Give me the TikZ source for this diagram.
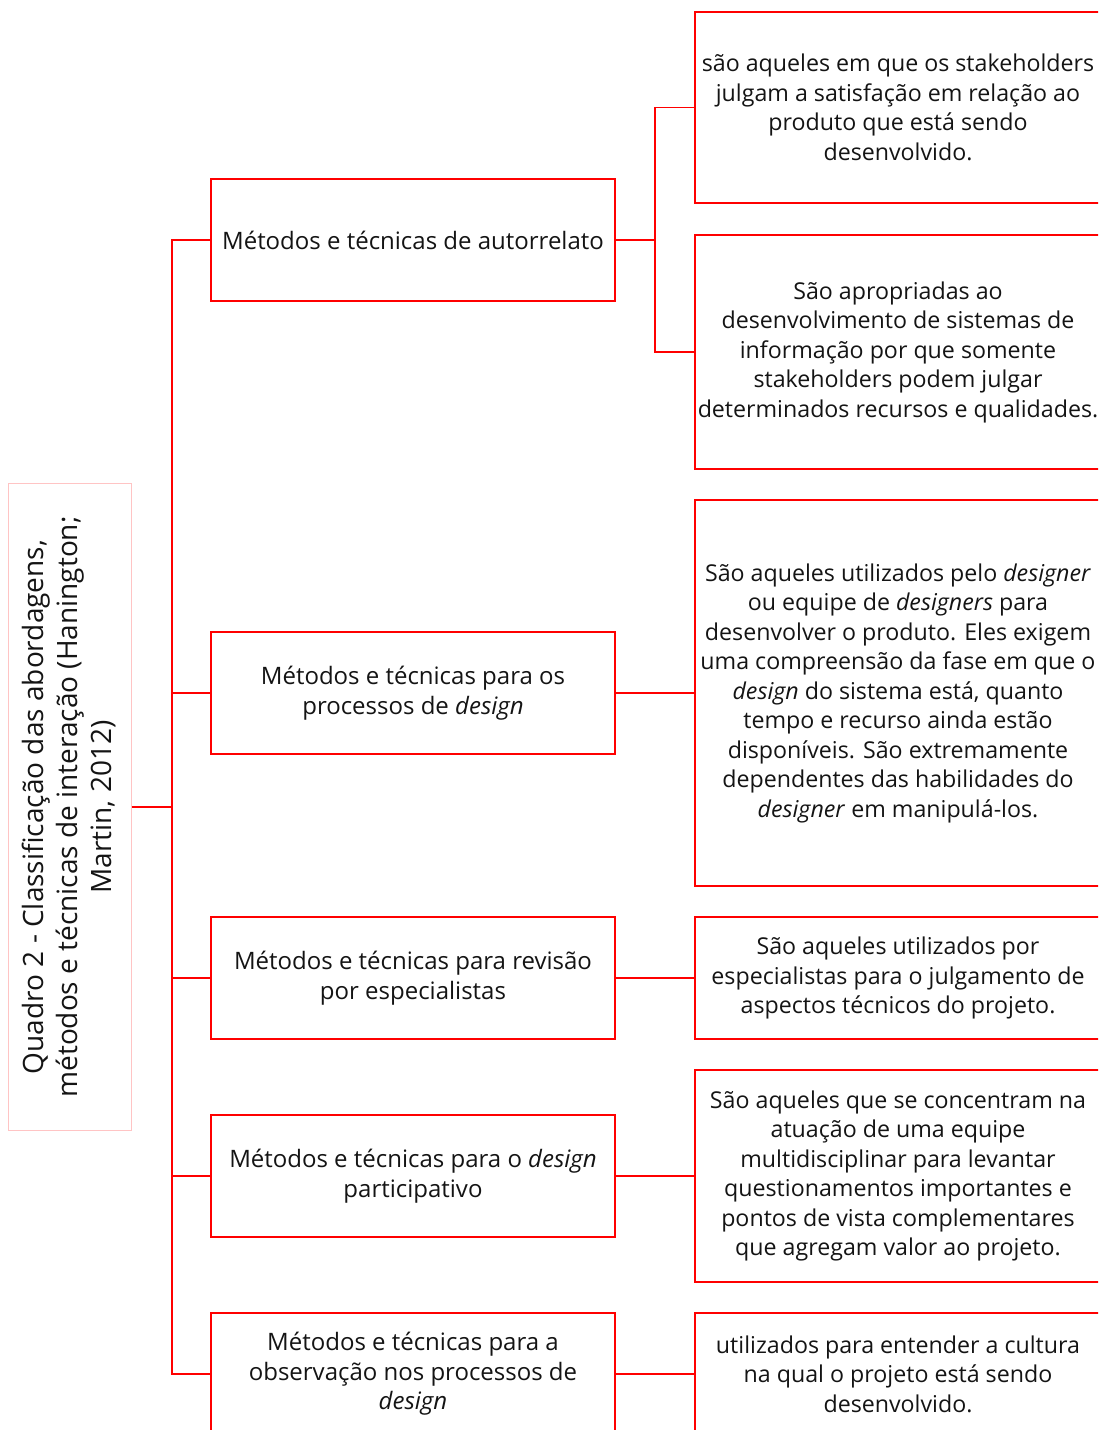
\documentclass[tikz,border=0pt]{standalone}
\usepackage{fontspec}
\setmainfont{Open Sans}
\definecolor{boxred}{RGB}{255,0,0}
\definecolor{palered}{RGB}{255,196,196}
\definecolor{ink}{RGB}{20,20,20}
\begin{document}
\begin{tikzpicture}[x=0.5pt,y=-0.5pt,
  every node/.style={text=ink, font=\fontsize{12pt}{14.75pt}\selectfont, align=center, inner sep=0pt},
  midbox/.style={draw=boxred, line width=0.7pt, minimum width=202pt, minimum height=61pt},
  sidebox/.style={draw=boxred, line width=0.7pt, minimum width=203pt, font=\fontsize{11.6pt}{14.75pt}\selectfont},
  link/.style={draw=boxred, line width=0.7pt}]
\useasboundingbox (0,0) rectangle (1098,1430);
\clip (0,0) rectangle (1098,1430);

% title block, set vertically
\node[draw=palered, line width=0.5pt, minimum width=61.5pt, minimum height=323.5pt] (lframe) at (69.5,807) {};
\node[rotate=90, font=\fontsize{14pt}{17pt}\selectfont] (ltext) at (lframe.center)
  {Quadro 2 - Classificação das abordagens,\\ métodos e técnicas de interação (Hanington;\\ Martin, 2012)};

% method groups
\node[midbox] (m1) at (413,240) {Métodos e técnicas de autorrelato};
\node[midbox] (m2) at (413,693) {Métodos e técnicas para os\\ processos de \textit{design}};
\node[midbox] (m3) at (413,978) {Métodos e técnicas para revisão\\ por especialistas};
\node[midbox] (m4) at (413,1176) {Métodos e técnicas para o \textit{design}\\ participativo};
\node[midbox] (m5) at (413,1374) {Métodos e técnicas para a\\ observação nos processos de\\ \textit{design}};

% descriptions (right edges run past the page)
\node[sidebox, minimum height=95.5pt] (r1a) at (898,107.5)
  {são aqueles em que os stakeholders\\ julgam a satisfação em relação ao\\ produto que está sendo\\ desenvolvido.};
\node[sidebox, minimum height=117pt] (r1b) at (898,352)
  {São apropriadas ao\\ desenvolvimento de sistemas de\\ informação por que somente\\ stakeholders podem julgar\\ determinados recursos e qualidades.};
\node[sidebox, minimum height=193pt] (r2) at (898,693)
  {São aqueles utilizados pelo \textit{designer}\\ ou equipe de \textit{designers} para\\ desenvolver o produto. Eles exigem\\ uma compreensão da fase em que o\\ \textit{design} do sistema está, quanto\\ tempo e recurso ainda estão\\ disponíveis. São extremamente\\ dependentes das habilidades do\\ \textit{designer} em manipulá-los.};
\node[sidebox, minimum height=61pt] (r3) at (898,978)
  {São aqueles utilizados por\\ especialistas para o julgamento de\\ aspectos técnicos do projeto.};
\node[sidebox, minimum height=106pt] (r4) at (898,1176)
  {São aqueles que se concentram na\\ atuação de uma equipe\\ multidisciplinar para levantar\\ questionamentos importantes e\\ pontos de vista complementares\\ que agregam valor ao projeto.};
\node[sidebox, minimum height=61pt] (r5) at (898,1374)
  {utilizados para entender a cultura\\ na qual o projeto está sendo\\ desenvolvido.};

% connectors
\coordinate (hub) at (172,807);
\coordinate (fork) at (655,240);
\draw[link] (lframe.east) -- (hub);
\foreach \m in {m1,m2,m3,m4,m5} \draw[link] (\m.west) -| (hub);
\draw[link] (m1.east) -- (fork);
\draw[link] (fork) |- (r1a.west);
\draw[link] (fork) |- (r1b.west);
\draw[link] (m2.east) -- (r2.west);
\draw[link] (m3.east) -- (r3.west);
\draw[link] (m4.east) -- (r4.west);
\draw[link] (m5.east) -- (r5.west);
\end{tikzpicture}
\end{document}
